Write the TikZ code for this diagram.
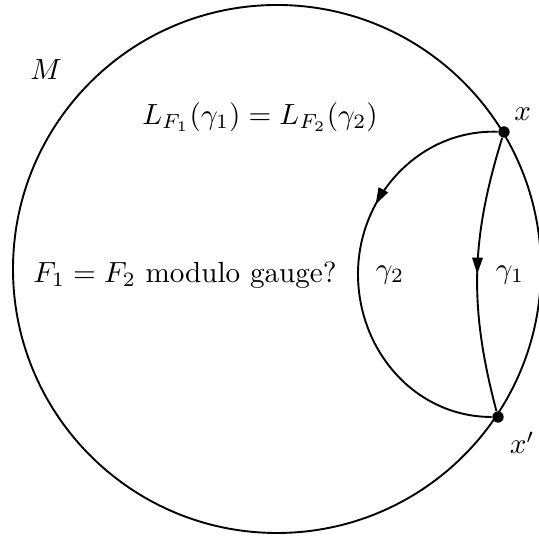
\documentclass[tikz,border=0pt]{standalone}
\usepackage{amsmath}
\usepackage{amssymb}
\usepackage{tikz}
\usetikzlibrary{positioning, arrows.meta, decorations.markings}

\begin{document}
\begin{tikzpicture}[
                x=0.343pt, y=0.343pt,
                mypoint/.style={circle, fill=black, inner sep=0pt, minimum size=3.9pt},
                mypath/.style={line width=0.65pt},
                midarrow/.style={postaction={decorate, decoration={markings,
                    mark=at position #1 with {\arrow{Triangle[length=5.6pt, width=3.6pt]}}}}}
                ]
                \useasboundingbox (0,0) rectangle (539,537);

                % 다양체 M
                \draw[mypath] (277,268) circle[radius=264];
                \node (M) at (46,467) {$M$};

                % 점 배치
                \node[mypoint] (x) at (504,405) {};
                \node[mypoint] (xp) at (498,120) {};
                \coordinate (g2left) at (358,263);
                \node[above right=-1pt and -1.5pt of x] {$x$};
                \node[below right=0pt and -1pt of xp] {$x'$};

                % 곡선 연결
                \draw[mypath, midarrow=0.34] (x) to[out=178, in=90] (g2left)
                    to[out=-90, in=180] (xp);
                \draw[mypath, midarrow=0.5] (x) to[bend right=16] (xp);
                \node (g2) at (390,262) {$\gamma_2$};
                \node (g1) at (510,262) {$\gamma_1$};

                % 문제 표기
                \node (len) at (260,420) {$L_{F_1}(\gamma_1) = L_{F_2}(\gamma_2)$};
                \node (gauge) at (185,262) {$F_1 = F_2$ modulo gauge?};
            \end{tikzpicture}
\end{document}
